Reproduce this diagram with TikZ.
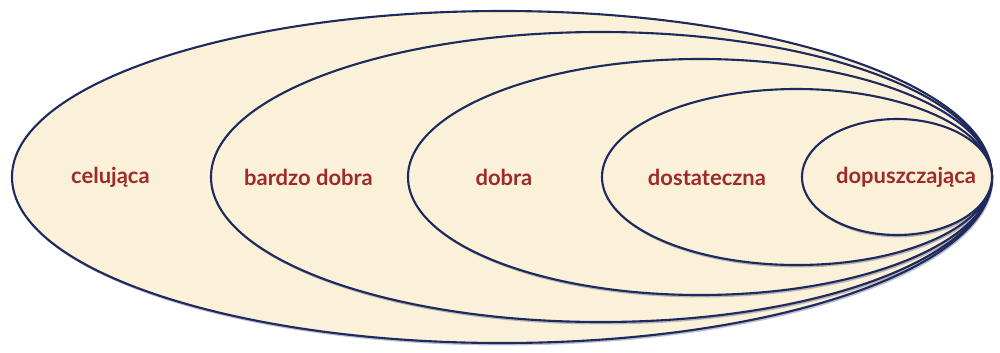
\documentclass[tikz,border=0pt]{standalone}
\usepackage{fontspec}
\setmainfont{Lato}
\usetikzlibrary{positioning,calc,shapes.geometric,shadows}
\definecolor{Cream}{HTML}{FBF0D8}
\definecolor{NavyLine}{HTML}{1E2A5E}
\definecolor{GradeRed}{HTML}{9E2A2B}
\tikzset{
  ring/.style={ellipse,draw=NavyLine,fill=Cream,line width=1.2pt,inner sep=0pt,
    drop shadow={shadow xshift=0.7pt,shadow yshift=-1.4pt,fill=NavyLine,opacity=0.3}},
  grade/.style={font=\bfseries\fontsize{12.5}{14}\selectfont,text=GradeRed},
}

\begin{document}
\begin{tikzpicture}[x=0.2mm,y=0.2mm]
\useasboundingbox (0,0) rectangle (1000,352);
% nested rings, all meeting at the right tip
\node[ring,minimum width=196mm,minimum height=66.4mm] (r1) at (502,175) {};
\node[ring,minimum width=156mm,minimum height=58mm] (r2) at (601,175) {};
\node[ring,minimum width=116.8mm,minimum height=47.2mm] (r3) at (700,175) {};
\node[ring,minimum width=78mm,minimum height=35.2mm] (r4) at (797,175) {};
\node[ring,minimum width=38mm,minimum height=23.2mm] (r5) at (897,175) {};

% grade labels, half way between the left edges
\node[grade] (celujaca) at ($(r1.west)!0.5!(r2.west)$) {celująca};
\node[grade] (bdobra) at ($(r2.west)!0.5!(r3.west)$) {bardzo dobra};
\node[grade] (dobra) at ($(r3.west)!0.5!(r4.west)$) {dobra};
\node[grade] (dostateczna) at ($(r4.west)!0.5!(r5.west)+(6,0)$) {dostateczna};
\node[grade] (dopuszczajaca) at ($(r5.center)+(9,0)$) {dopuszczająca};
\end{tikzpicture}
\end{document}
